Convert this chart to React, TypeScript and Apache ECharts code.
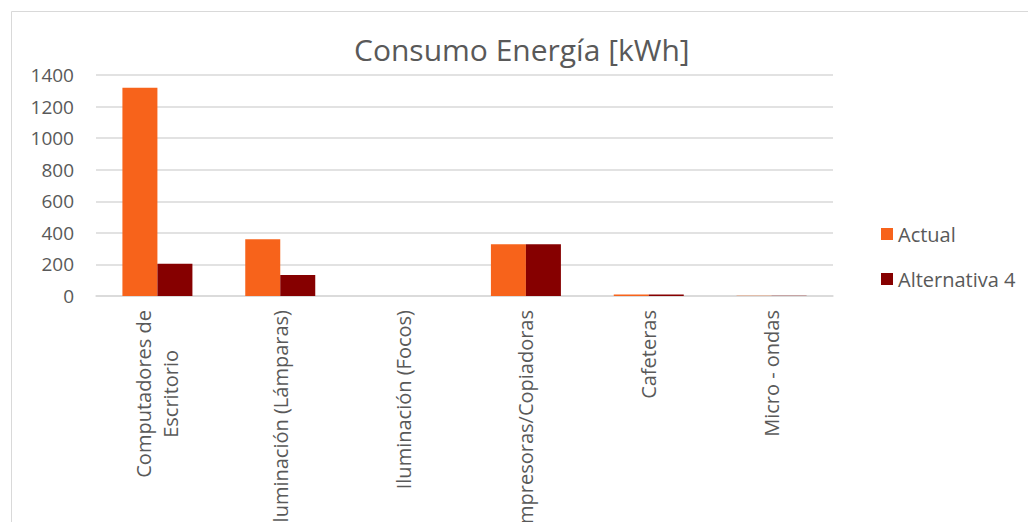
import React, { useEffect, useRef } from "react";
import * as echarts from "echarts";

const categories = [
  "Computadores de\nEscritorio",
  "Iluminación (Lámparas)",
  "Iluminación (Focos)",
  "Impresoras/Copiadoras",
  "Cafeteras",
  "Micro - ondas",
];
const actual = [1320, 360, 0, 328, 9, 2];
const alternativa4 = [205, 133, 0, 328, 9, 2];
const yTicks = { min: 0, max: 1400, interval: 200 };

const FONT = "'Open Sans', sans-serif";
const GRAY = "#595959";

export default function App() {
  const ref = useRef<HTMLDivElement>(null);
  useEffect(() => {
    if (!ref.current) return;
    const chart = echarts.init(ref.current, null, { renderer: "svg" });
    chart.setOption({
      animation: false,
      textStyle: { fontFamily: FONT },
      title: {
        text: "Consumo Energía [kWh]",
        left: 354,
        top: 34,
        padding: 0,
        textStyle: { fontFamily: FONT, fontSize: 30, fontWeight: "normal", color: GRAY },
      },
      graphic: [
        {
          type: "rect",
          shape: { x: 11.5, y: 11.5, width: 1100, height: 600 },
          style: { fill: "none", stroke: "#d9d9d9", lineWidth: 1 },
          silent: true,
        },
      ],
      legend: {
        orient: "vertical",
        left: 881,
        top: 222,
        padding: 0,
        itemWidth: 12,
        itemHeight: 12,
        itemGap: 21,
        icon: "rect",
        textStyle: { fontFamily: FONT, fontSize: 20, color: GRAY, lineHeight: 24 },
        data: ["Actual", "Alternativa 4"],
      },
      grid: {
        left: 96,
        right: 195,
        top: 75,
        bottom: 226,
        containLabel: false,
        outerBoundsMode: "none",
      },
      xAxis: {
        type: "category",
        data: categories,
        axisLine: { show: true, lineStyle: { color: "#d9d9d9", width: 1.5 } },
        axisTick: { show: false },
        axisLabel: {
          rotate: 90,
          interval: 0,
          margin: 14,
          fontFamily: FONT,
          fontSize: 20,
          lineHeight: 27,
          color: GRAY,
          formatter: (v: string) =>
            v.includes("\n") ? v.split("\n").map((s) => `{c|${s}}`).join("\n") : v,
          rich: {
            c: { align: "center", fontFamily: FONT, fontSize: 20, lineHeight: 27, color: GRAY },
          },
        },
      },
      yAxis: {
        type: "value",
        min: yTicks.min,
        max: yTicks.max,
        interval: yTicks.interval,
        axisLine: { show: false },
        axisTick: { show: false },
        splitLine: { lineStyle: { color: "#d9d9d9", width: 1.5 } },
        axisLabel: {
          margin: 22,
          fontFamily: FONT,
          fontSize: 19,
          color: GRAY,
          formatter: (v: number) => String(v),
        },
      },
      series: [
        {
          name: "Actual",
          type: "bar",
          data: actual,
          barWidth: 35,
          barGap: "0%",
          itemStyle: { color: "#F7631B" },
        },
        {
          name: "Alternativa 4",
          type: "bar",
          data: alternativa4,
          barWidth: 35,
          barGap: "0%",
          itemStyle: { color: "#860000" },
        },
      ],
    });
    return () => chart.dispose();
  }, []);
  return (
    <div
      ref={ref}
      style={{ position: "fixed", left: 0, top: 0, width: 1028, height: 522, background: "#fff" }}
    />
  );
}
